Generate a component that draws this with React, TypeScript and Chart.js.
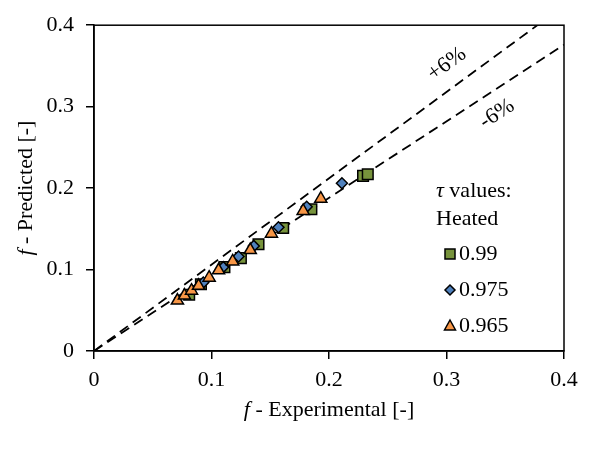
import React, { useEffect, useRef } from 'react';
import { Chart, registerables } from 'chart.js';

Chart.register(...registerables);

// ---- data ----
const tau099X = [0.081, 0.091, 0.111, 0.125, 0.140, 0.161, 0.185, 0.229, 0.233];
const tau099Y = [0.069, 0.082, 0.103, 0.114, 0.131, 0.151, 0.174, 0.215, 0.217];

const tau0975X = [0.093, 0.110, 0.123, 0.136, 0.157, 0.181, 0.211];
const tau0975Y = [0.084, 0.103, 0.116, 0.129, 0.152, 0.177, 0.206];

const tau0965X = [0.071, 0.077, 0.083, 0.089, 0.098, 0.106, 0.118, 0.133, 0.151, 0.178, 0.193];
const tau0965Y = [0.062, 0.068, 0.074, 0.080, 0.090, 0.099, 0.110, 0.124, 0.144, 0.172, 0.187];

const seriesLabels = ['0.99', '0.975', '0.965'];
const upperRatio = 1.06;
const lowerRatio = 0.94;
const lineX = [0, 0.4];
const bandLabels = ['+6%', '-6%'];
const tickValues = [0, 0.1, 0.2, 0.3, 0.4];
const axisMin = 0;
const axisMax = 0.4;

const FONT = '"Liberation Serif", "Times New Roman", serif';
const FS = 22;
const GREEN = '#77933C';
const BLUE = '#4F81BD';
const ORANGE = '#F79646';

const pts = (xs: number[], ys: number[]) => xs.map((x, i) => ({ x, y: ys[i] }));

function drawMarker(ctx: CanvasRenderingContext2D, style: string, x: number, y: number, color: string) {
  ctx.save();
  ctx.fillStyle = color;
  ctx.strokeStyle = '#000';
  ctx.lineWidth = 1.5;
  ctx.beginPath();
  if (style === 'rect') {
    ctx.rect(x - 5, y - 5, 10, 10);
  } else if (style === 'rectRot') {
    ctx.moveTo(x, y - 5);
    ctx.lineTo(x + 5, y);
    ctx.lineTo(x, y + 5);
    ctx.lineTo(x - 5, y);
    ctx.closePath();
  } else {
    ctx.moveTo(x, y - 6);
    ctx.lineTo(x + 5.5, y + 4);
    ctx.lineTo(x - 5.5, y + 4);
    ctx.closePath();
  }
  ctx.fill();
  ctx.stroke();
  ctx.restore();
}

function mixedText(ctx: CanvasRenderingContext2D, italicPart: string, rest: string, cx: number, cy: number) {
  ctx.font = `italic ${FS}px ${FONT}`;
  const w1 = ctx.measureText(italicPart).width;
  ctx.font = `${FS}px ${FONT}`;
  const w2 = ctx.measureText(rest).width;
  const sx = cx - (w1 + w2) / 2;
  ctx.textAlign = 'left';
  ctx.font = `italic ${FS}px ${FONT}`;
  ctx.fillText(italicPart, sx, cy);
  ctx.font = `${FS}px ${FONT}`;
  ctx.fillText(rest, sx + w1, cy);
}

const decorPlugin = {
  id: 'decor',
  afterDraw(chart: any) {
    const ctx: CanvasRenderingContext2D = chart.ctx;
    const { left, right, top, bottom } = chart.chartArea;
    const xs = chart.scales.x;
    const ys = chart.scales.y;
    ctx.save();
    ctx.strokeStyle = '#000';
    ctx.lineWidth = 1.5;
    ctx.strokeRect(left, top, right - left, bottom - top);

    ctx.fillStyle = '#000';
    ctx.textBaseline = 'middle';
    mixedText(ctx, 'f', ' - Experimental [-]', (left + right) / 2, 410);

    ctx.save();
    ctx.translate(26, (top + bottom) / 2);
    ctx.rotate(-Math.PI / 2);
    mixedText(ctx, 'f', ' - Predicted [-]', 0, 0);
    ctx.restore();

    const angleFor = (r: number) => {
      const dx = xs.getPixelForValue(0.3) - xs.getPixelForValue(0);
      const dy = ys.getPixelForValue(0.3 * r) - ys.getPixelForValue(0);
      return Math.atan2(dy, dx);
    };
    ctx.font = `${FS}px ${FONT}`;
    ctx.textAlign = 'center';
    ctx.save();
    ctx.translate(447, 64);
    ctx.rotate(angleFor(upperRatio));
    ctx.fillText(bandLabels[0], 0, 0);
    ctx.restore();
    ctx.save();
    ctx.translate(497, 114);
    ctx.rotate(angleFor(lowerRatio));
    ctx.fillText(bandLabels[1], 0, 0);
    ctx.restore();

    ctx.textAlign = 'left';
    ctx.font = `italic ${FS}px ${FONT}`;
    ctx.fillText('τ', 436, 191);
    const wt = ctx.measureText('τ').width;
    ctx.font = `${FS}px ${FONT}`;
    ctx.fillText(' values:', 436 + wt, 191);
    ctx.fillText('Heated', 436, 219);
    const styles = ['rect', 'rectRot', 'triangle'];
    const colors = [GREEN, BLUE, ORANGE];
    const rowY = [254, 290, 326];
    for (let i = 0; i < 3; i++) {
      drawMarker(ctx, styles[i], 450, rowY[i], colors[i]);
      ctx.fillStyle = '#000';
      ctx.font = `${FS}px ${FONT}`;
      ctx.fillText(seriesLabels[i], 459, rowY[i]);
    }
    ctx.restore();
  },
};

const axisCommon = (fitFn: (s: any) => void, pad: number) => ({
  type: 'linear' as const,
  min: axisMin,
  max: axisMax,
  afterFit: fitFn,
  afterBuildTicks: (s: any) => { s.ticks = tickValues.map((v) => ({ value: v })); },
  ticks: {
    color: '#000',
    font: { family: FONT, size: FS },
    padding: pad,
    maxRotation: 0,
    callback: (v: any) => String(Math.round(Number(v) * 10) / 10),
  },
  grid: { drawOnChartArea: false, drawTicks: true, tickLength: 8, color: '#000', lineWidth: 1.5 },
  border: { color: '#000', width: 1.5 },
});

export default function App() {
  const ref = useRef<HTMLCanvasElement | null>(null);
  useEffect(() => {
    if (!ref.current) return;
    const lineDs = (label: string, r: number) => ({
      type: 'line',
      label,
      data: lineX.map((x) => ({ x, y: x * r })),
      borderColor: '#000',
      borderWidth: 1.8,
      borderDash: [10, 6],
      pointRadius: 0,
      fill: false,
      order: 5,
    } as any);
    const chart = new Chart(ref.current, {
      type: 'scatter',
      data: {
        datasets: [
          lineDs(bandLabels[0], upperRatio),
          lineDs(bandLabels[1], lowerRatio),
          {
            label: seriesLabels[0],
            data: pts(tau099X, tau099Y),
            pointStyle: 'rect',
            pointRadius: 7.5,
            backgroundColor: GREEN,
            borderColor: '#000',
            borderWidth: 1.5,
            order: 3,
          },
          {
            label: seriesLabels[1],
            data: pts(tau0975X, tau0975Y),
            pointStyle: 'rectRot',
            pointRadius: 5.5,
            backgroundColor: BLUE,
            borderColor: '#000',
            borderWidth: 1.5,
            order: 2,
          },
          {
            label: seriesLabels[2],
            data: pts(tau0965X, tau0965Y),
            pointStyle: 'triangle',
            pointRadius: 7,
            backgroundColor: ORANGE,
            borderColor: '#000',
            borderWidth: 1.5,
            order: 1,
          },
        ],
      },
      options: {
        animation: false,
        responsive: false,
        maintainAspectRatio: false,
        layout: { padding: { top: 18, right: 30, left: 0, bottom: 0 } },
        plugins: { legend: { display: false }, tooltip: { enabled: false } },
        scales: {
          x: axisCommon((s: any) => { s.height = 99; }, 8) as any,
          y: axisCommon((s: any) => { s.width = 94; }, 12) as any,
        },
      },
      plugins: [decorPlugin],
    });
    return () => chart.destroy();
  }, []);
  return (
    <div style={{ position: 'fixed', left: 0, top: 0, width: 594, height: 450, background: '#fff' }}>
      <canvas ref={ref} width={594} height={450} style={{ width: 594, height: 450 }} />
    </div>
  );
}
